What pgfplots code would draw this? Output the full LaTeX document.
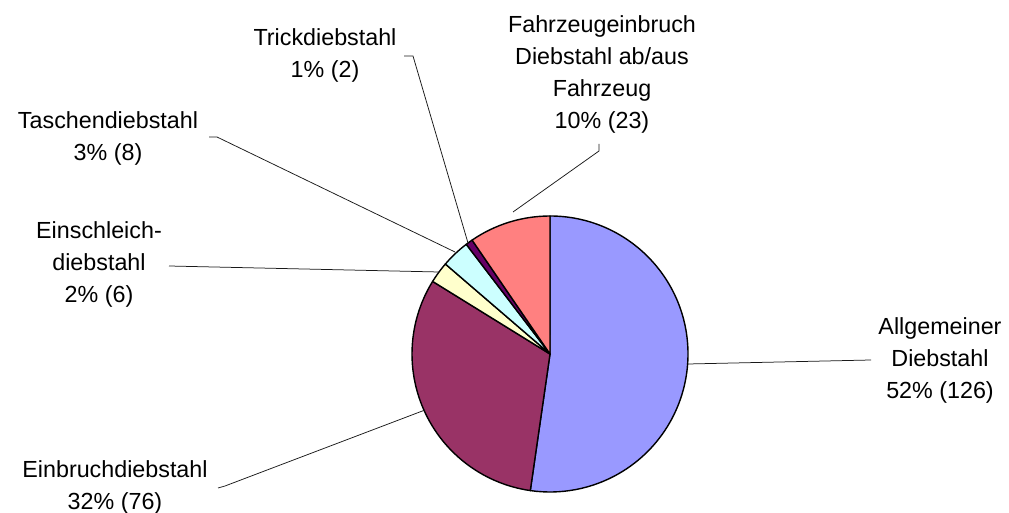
\documentclass[border=0pt]{standalone}
\usepackage{pgfplots}
\pgfplotsset{compat=1.18}
\usepackage{fontspec}
\setmainfont{Liberation Sans}
\definecolor{cAll}{HTML}{9999FF}
\definecolor{cEin}{HTML}{993366}
\definecolor{cSch}{HTML}{FFFFCC}
\definecolor{cTas}{HTML}{CCFFFF}
\definecolor{cTri}{HTML}{660066}
\definecolor{cFah}{HTML}{FF8080}
\begin{document}
\begin{tikzpicture}
% values (counts)
\def\vAll{126}\def\vEin{76}\def\vSch{6}\def\vTas{8}\def\vTri{2}\def\vFah{23}
\pgfmathsetmacro\tot{\vAll+\vEin+\vSch+\vTas+\vTri+\vFah}
\pgfmathsetmacro\aA{90}
\pgfmathsetmacro\aB{\aA-360*(\vAll/\tot)}
\pgfmathsetmacro\aC{\aB-360*(\vEin/\tot)}
\pgfmathsetmacro\aD{\aC-360*(\vSch/\tot)}
\pgfmathsetmacro\aE{\aD-360*(\vTas/\tot)}
\pgfmathsetmacro\aF{\aE-360*(\vTri/\tot)}
\pgfmathsetmacro\aG{\aF-360*(\vFah/\tot)}
\def\R{138pt}
\begin{axis}[
  name=ax, at={(0,0)}, anchor=south west,
  scale only axis, width=1009pt, height=513pt,
  xmin=0, xmax=1009, ymin=0, ymax=513,
  hide axis, clip=false,
]
\tikzset{slice/.style={draw=black, line width=1.4pt, line join=round}}
\filldraw[slice, fill=cAll] (axis cs:550,159) -- ++(\aA:\R) arc[start angle=\aA, end angle=\aB, radius=\R] -- cycle;
\filldraw[slice, fill=cEin] (axis cs:550,159) -- ++(\aB:\R) arc[start angle=\aB, end angle=\aC, radius=\R] -- cycle;
\filldraw[slice, fill=cSch] (axis cs:550,159) -- ++(\aC:\R) arc[start angle=\aC, end angle=\aD, radius=\R] -- cycle;
\filldraw[slice, fill=cTas] (axis cs:550,159) -- ++(\aD:\R) arc[start angle=\aD, end angle=\aE, radius=\R] -- cycle;
\filldraw[slice, fill=cTri] (axis cs:550,159) -- ++(\aE:\R) arc[start angle=\aE, end angle=\aF, radius=\R] -- cycle;
\filldraw[slice, fill=cFah] (axis cs:550,159) -- ++(\aF:\R) arc[start angle=\aF, end angle=\aG, radius=\R] -- cycle;
% leader lines
\tikzset{lead/.style={draw=black!90, line width=0.75pt}}
\draw[lead] (axis cs:871,153) -- (axis cs:688,149);
\draw[lead] (axis cs:218,25) -- (axis cs:225,27) -- (axis cs:425,103);
\draw[lead] (axis cs:169,247) -- (axis cs:439,241);
\draw[lead] (axis cs:209,376) -- (axis cs:217,376) -- (axis cs:455,261);
\draw[lead] (axis cs:404,457) -- (axis cs:413,457) -- (axis cs:468,270);
\draw[lead] (axis cs:599,369) -- (axis cs:599,362) -- (axis cs:513,301);
% labels
\tikzset{lab/.style={align=center, inner sep=0pt, font=\fontsize{23.3}{32}\selectfont}}
\node[lab] at (axis cs:940,153) {Allgemeiner\\Diebstahl\\52\% (126)};
\node[lab] at (axis cs:115,26) {Einbruchdiebstahl\\32\% (76)};
\node[lab] at (axis cs:99,249) {Einschleich-\\diebstahl\\2\% (6)};
\node[lab] at (axis cs:108,375) {Taschendiebstahl\\3\% (8)};
\node[lab] at (axis cs:325,458) {Trickdiebstahl\\1\% (2)};
\node[lab] at (axis cs:602,439) {Fahrzeugeinbruch\\Diebstahl ab/aus\\Fahrzeug\\10\% (23)};
\end{axis}
\pgfresetboundingbox
\path (ax.south west) rectangle (ax.north east);
\end{tikzpicture}
\end{document}
